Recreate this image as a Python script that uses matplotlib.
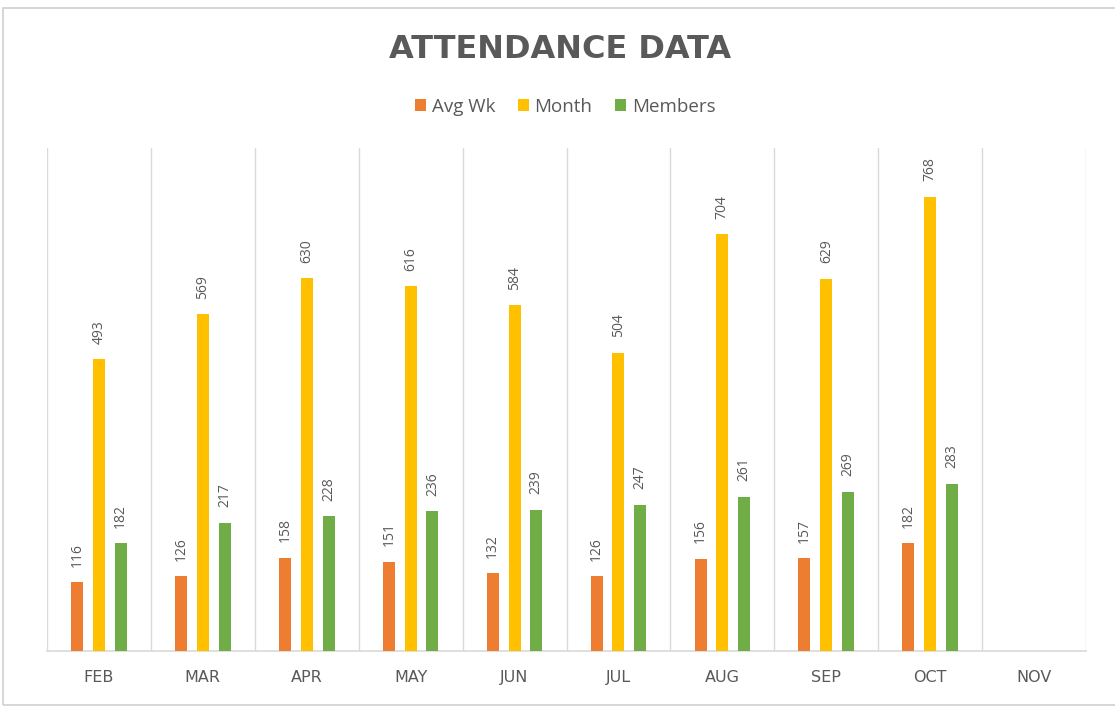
import matplotlib.pyplot as plt
from matplotlib.patches import Rectangle
import numpy as np

months = ['FEB', 'MAR', 'APR', 'MAY', 'JUN', 'JUL', 'AUG', 'SEP', 'OCT', 'NOV']
avg_wk = [116, 126, 158, 151, 132, 126, 156, 157, 182]
month_tot = [493, 569, 630, 616, 584, 504, 704, 629, 768]
members = [182, 217, 228, 236, 239, 247, 261, 269, 283]

series = [
    ('Avg Wk', avg_wk, '#ED7D31'),
    ('Month', month_tot, '#FFC000'),
    ('Members', members, '#70AD47'),
]

plt.rcParams['font.family'] = ['Open Sans', 'DejaVu Sans']
text_gray = '#595959'
grid_gray = '#d9d9d9'

fig = plt.figure(figsize=(11.15, 7.08), dpi=100)
ax = fig.add_axes([47 / 1115, 1 - 651 / 708, (1086 - 47) / 1115, (651 - 148) / 708])

# рамка области диаграммы
fig.patches.append(Rectangle((3 / 1115, 0.004), 1.2, 1 - 8 / 708 - 0.004,
                             transform=fig.transFigure, fill=False,
                             edgecolor='#d0d0d0', linewidth=1.2))

width = 0.115
offset = 0.21
x = np.arange(len(avg_wk))
for i, (name, vals, color) in enumerate(series):
    pos = x + (i - 1) * offset
    ax.bar(pos, vals, width=width, color=color, label=name, zorder=3)
    for px, v in zip(pos, vals):
        ax.text(px, v + 26, str(v), rotation=90, ha='center', va='bottom',
                fontsize=10, color=text_gray)

ax.set_xlim(-0.5, len(months) - 0.5)
ax.set_ylim(0, 850)

# вертикальные разделители категорий
for b in np.arange(-0.5, len(months), 1.0):
    ax.axvline(b, color=grid_gray, linewidth=1, zorder=1)

ax.set_xticks(np.arange(len(months)))
ax.set_xticklabels(months, fontsize=11.5, color=text_gray, family='DejaVu Sans')
ax.tick_params(axis='x', length=0, pad=14)
ax.set_yticks([])
for s in ['top', 'right', 'left']:
    ax.spines[s].set_visible(False)
ax.spines['bottom'].set_color(grid_gray)
ax.spines['bottom'].set_linewidth(1.2)

fig.text(560 / 1115, 1 - 50 / 708, 'ATTENDANCE DATA', ha='center', va='center',
         fontsize=23, fontweight='bold', color=text_gray, family='DejaVu Sans')

fig.legend(loc='center', bbox_to_anchor=(565 / 1115, 1 - 107 / 708), ncol=3,
           frameon=False, fontsize=13.5, handlelength=0.6, handleheight=0.6,
           handletextpad=0.3, columnspacing=1.2, labelcolor=text_gray)

fig.savefig('out.png', dpi=100)
